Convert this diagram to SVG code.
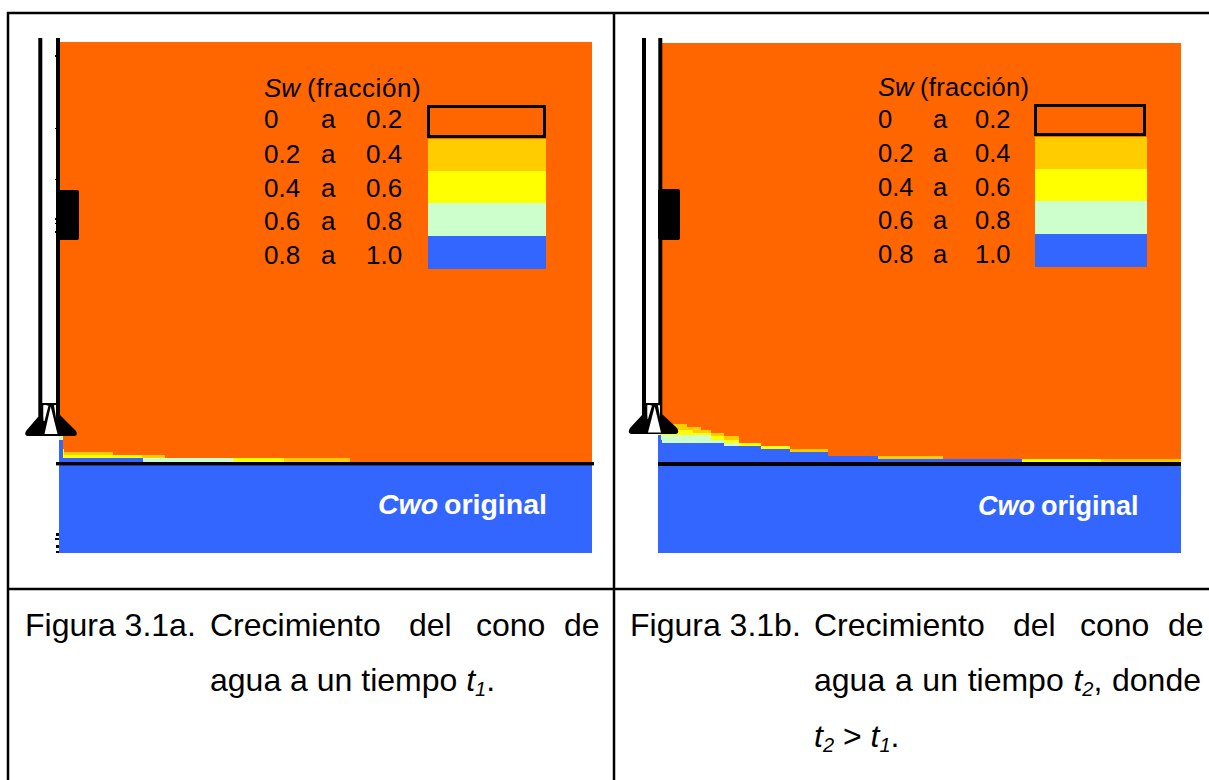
<svg xmlns="http://www.w3.org/2000/svg" width="1209" height="780" viewBox="0 0 1209 780">
<style>
.or{fill:#ff6600}.go{fill:#ffcc00}.ye{fill:#ffff00}.gr{fill:#ccffcc}.bl{fill:#3366ff}.k{fill:#000}.w{fill:#fff}
.t{font-family:"Liberation Sans",Arial,sans-serif;fill:#000}
.la{font-size:26px}.lb{font-size:25.500px}.cap{font-size:32px}.sub{font-size:20px;font-style:italic}
.cw{font-family:"Liberation Sans",Arial,sans-serif;fill:#fff;font-weight:bold}
.i{font-style:italic}
.tb{stroke:#000;stroke-width:2.500;fill:none}
</style>
<rect width="1209" height="780" fill="#fff"/>
<g id="table">
<path class="tb" d="M1209 13H8V780M614 13V780M8 589H1209"/>
</g>
<g id="panel-a">
<rect class="or" x="59" y="42" width="533" height="420"/>
<rect class="bl" x="59" y="440" width="4" height="25"/>
<rect class="gr" x="59" y="436" width="4" height="4"/>
<rect class="ye" x="63" y="449" width="1" height="9"/>
<rect class="go" x="64" y="452" width="49" height="3"/>
<rect class="ye" x="64" y="455" width="78" height="3"/>
<rect class="go" x="142" y="455" width="23" height="3"/>
<rect class="bl" x="63" y="458" width="80" height="4"/>
<rect class="gr" x="143" y="458" width="90" height="4"/>
<rect class="ye" x="233" y="458" width="51" height="4"/>
<rect class="go" x="284" y="458" width="66" height="4"/>
<rect class="bl" x="59" y="465" width="533" height="88"/>
<rect class="k" x="56" y="462" width="538" height="3.400"/>
<rect class="k" x="38.300" y="38" width="4" height="382"/>
<rect class="k" x="56" y="38" width="4" height="382"/>
<rect class="k" x="56" y="190" width="23" height="50" rx="2"/>
<path class="k" d="M55 55h2v2h-2zM55 128h2v1h-2zM55 179h2v1h-2zM55 218h2v2h-2zM55 223h2v1h-2zM55 231h2v2h-2zM56 533h3v3h-3zM55 538h4v2h-4zM56 545h3v3h-3zM56 551h3v2h-3z"/>
<path class="k" d="M38 417L26 431Q24 435 27 436H75Q78 435 76 431L60 415Z"/>
<rect class="w" x="42.500" y="404" width="14.500" height="31" stroke="#000" stroke-width="2"/>
<path class="k" d="M47 404H54L58 420V435H43V420Z"/>
<path class="w" d="M43.500 405.500H48.500L44.500 421H43.500ZM54 405.500H56V418ZM50.700 406.500L57.500 434H44.500Z"/>
<g id="legend-a">
<text class="t la" x="264" y="97"><tspan class="i">Sw</tspan></text><text class="t la" x="307" y="97" letter-spacing="0.600">(fracción)</text>
<text class="t la" x="264" y="128">0</text><text class="t la" x="321" y="128">a</text><text class="t la" x="366" y="128">0.2</text>
<text class="t la" x="264" y="163">0.2</text><text class="t la" x="321" y="163">a</text><text class="t la" x="366" y="163">0.4</text>
<text class="t la" x="264" y="197">0.4</text><text class="t la" x="321" y="197">a</text><text class="t la" x="366" y="197">0.6</text>
<text class="t la" x="264" y="230">0.6</text><text class="t la" x="321" y="230">a</text><text class="t la" x="366" y="230">0.8</text>
<text class="t la" x="264" y="264">0.8</text><text class="t la" x="321" y="264">a</text><text class="t la" x="366" y="264">1.0</text>
<rect x="428.500" y="106.500" width="116" height="30" fill="none" stroke="#000" stroke-width="3"/>
<rect class="go" x="428" y="139" width="118" height="32"/>
<rect class="ye" x="428" y="171" width="118" height="32"/>
<rect class="gr" x="428" y="203" width="118" height="33"/>
<rect class="bl" x="428" y="236" width="118" height="33"/>
</g>
<text class="cw i" font-size="28.500" x="378" y="514">Cwo</text><text class="cw" font-size="28.500" x="444" y="514">original</text>
</g>
<g id="panel-b">
<rect class="or" x="662" y="43" width="519" height="419"/>
<rect class="bl" x="658" y="435" width="523" height="27"/>
<rect class="or" x="828" y="424" width="353" height="32"/>
<rect class="or" x="943" y="456" width="238" height="3"/>
<rect class="go" x="878" y="456" width="65" height="3"/>
<rect class="ye" x="1022" y="459" width="79" height="3"/>
<rect class="go" x="1101" y="459" width="80" height="3"/>
<rect class="or" x="790" y="424" width="38" height="25"/>
<rect class="or" x="761" y="424" width="29" height="22"/>
<rect class="or" x="739" y="424" width="22" height="19"/>
<rect class="go" x="660" y="424" width="27" height="6"/>
<rect class="go" x="660" y="427" width="41" height="3"/>
<rect class="or" x="687" y="424" width="52" height="3"/>
<rect class="or" x="701" y="427" width="38" height="3"/>
<rect class="or" x="711" y="430" width="28" height="3"/>
<rect class="or" x="724" y="433" width="15" height="3"/>
<rect class="ye" x="660" y="430" width="33" height="5"/>
<rect class="go" x="693" y="430" width="18" height="3"/>
<rect class="ye" x="693" y="433" width="18" height="3"/>
<rect class="go" x="711" y="433" width="13" height="3"/>
<rect class="ye" x="711" y="436" width="13" height="4"/>
<rect class="go" x="724" y="436" width="15" height="4"/>
<rect class="ye" x="724" y="440" width="15" height="3"/>
<rect class="ye" x="739" y="443" width="22" height="3"/>
<rect class="ye" x="761" y="446" width="29" height="3"/>
<rect class="go" x="790" y="449" width="38" height="3"/>
<rect class="gr" x="661" y="435" width="50" height="5"/>
<rect class="gr" x="662" y="440" width="62" height="3"/>
<rect class="gr" x="724" y="443" width="15" height="3"/>
<rect class="bl" x="658" y="466" width="523" height="87"/>
<rect class="k" x="658" y="462" width="523" height="4"/>
<rect class="k" x="642" y="38" width="4" height="380"/>
<rect class="k" x="658.300" y="38" width="4" height="380"/>
<rect class="k" x="658" y="189" width="22" height="51" rx="2"/>
<path class="k" d="M643 414L630 428Q627 433 631 434H676Q680 433 677 428L662 414Z"/>
<rect class="w" x="646.500" y="404" width="14" height="29" stroke="#000" stroke-width="2"/>
<path class="k" d="M651 404H658L662 418V433H647V418Z"/>
<path class="w" d="M647.500 405.500H652L648 419H647.500ZM658 405.500H660V417ZM654.700 406.500L661 432.500H648Z"/>
<g id="legend-b">
<text class="t lb" x="878" y="96"><tspan class="i">Sw</tspan></text><text class="t lb" x="920" y="96" letter-spacing="0.300">(fracción)</text>
<text class="t lb" x="878" y="128">0</text><text class="t lb" x="933" y="128">a</text><text class="t lb" x="975" y="128">0.2</text>
<text class="t lb" x="878" y="162">0.2</text><text class="t lb" x="933" y="162">a</text><text class="t lb" x="975" y="162">0.4</text>
<text class="t lb" x="878" y="196">0.4</text><text class="t lb" x="933" y="196">a</text><text class="t lb" x="975" y="196">0.6</text>
<text class="t lb" x="878" y="229">0.6</text><text class="t lb" x="933" y="229">a</text><text class="t lb" x="975" y="229">0.8</text>
<text class="t lb" x="878" y="263">0.8</text><text class="t lb" x="933" y="263">a</text><text class="t lb" x="975" y="263">1.0</text>
<rect x="1035.500" y="105.500" width="109" height="29" fill="none" stroke="#000" stroke-width="3"/>
<rect class="go" x="1035" y="137" width="112" height="32"/>
<rect class="ye" x="1035" y="169" width="112" height="32"/>
<rect class="gr" x="1035" y="201" width="112" height="33"/>
<rect class="bl" x="1035" y="234" width="112" height="33"/>
</g>
<text class="cw i" font-size="27" x="978" y="515">Cwo</text><text class="cw" font-size="27" x="1041" y="515">original</text>
</g>
<g id="caption-a">
<text class="t cap" x="25" y="636">Figura 3.1a.</text>
<text class="t cap" x="210" y="636">Crecimiento</text><text class="t cap" x="409" y="636">del</text><text class="t cap" x="476" y="636">cono</text><text class="t cap" x="564" y="636">de</text>
<text class="t cap" x="210" y="691">agua a un tiempo <tspan class="i">t</tspan><tspan class="sub" dy="5">1</tspan><tspan dy="-5">.</tspan></text>
</g>
<g id="caption-b">
<text class="t cap" x="630" y="636">Figura 3.1b.</text>
<text class="t cap" x="814" y="636">Crecimiento</text><text class="t cap" x="1013" y="636">del</text><text class="t cap" x="1080" y="636">cono</text><text class="t cap" x="1168" y="636">de</text>
<text class="t cap" x="814" y="691" word-spacing="0.800">agua a un tiempo <tspan class="i">t</tspan><tspan class="sub" dy="5">2</tspan><tspan dy="-5">, donde</tspan></text>
<text class="t cap" x="814" y="747"><tspan class="i">t</tspan><tspan class="sub" dy="5">2</tspan><tspan dy="-5"> &gt; </tspan><tspan class="i">t</tspan><tspan class="sub" dy="5">1</tspan><tspan dy="-5">.</tspan></text>
</g>
</svg>
